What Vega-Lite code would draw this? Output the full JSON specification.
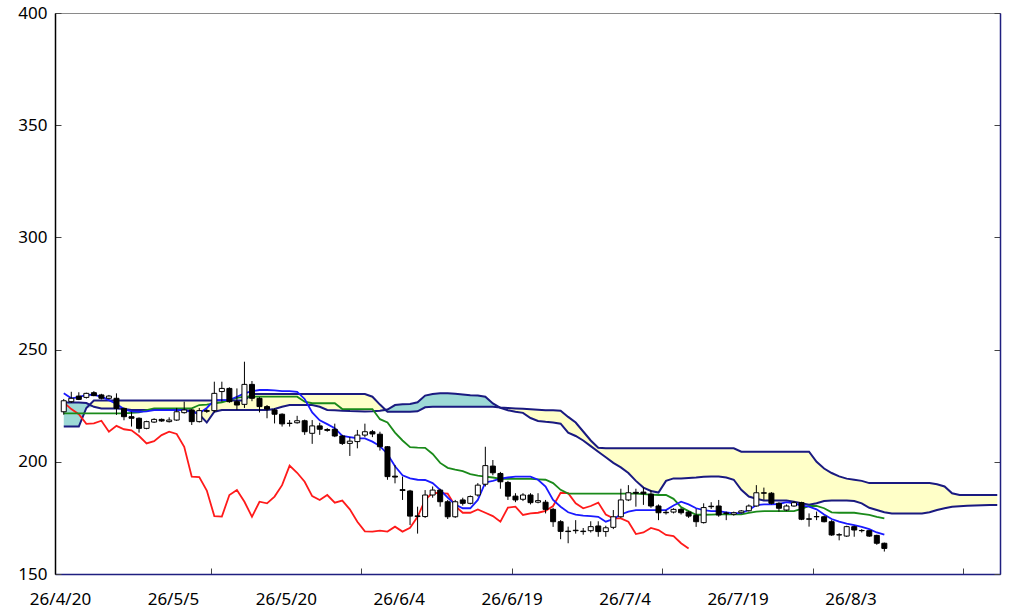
{
"$schema": "https://vega.github.io/schema/vega-lite/v6.json",
"width": 945, "height": 561,
"autosize": {"type": "none"},
"padding": {"left": 55, "top": 13, "right": 24, "bottom": 34},
"background": "white",
"config": {"view": {"stroke": "#8a8a8a", "strokeWidth": 1}, "font": "Noto Sans"},
"datasets": {
"candles": [
{"i":0,"o":222.3,"h":228,"l":221,"c":227.2,"tk":230.5,"kj":221.6},
{"i":1,"o":226.8,"h":231.2,"l":226.2,"c":228.3,"tk":228.3,"kj":221.6},
{"i":2,"o":229.3,"h":231,"l":227.5,"c":227.8,"tk":228.8,"kj":221.6},
{"i":3,"o":228.7,"h":230.8,"l":228.2,"c":230.5,"tk":229.8,"kj":221.6},
{"i":4,"o":230.8,"h":231.5,"l":229.2,"c":229.5,"tk":229.8,"kj":221.6},
{"i":5,"o":229.8,"h":230.3,"l":227.8,"c":228.3,"tk":229,"kj":221.6},
{"i":6,"o":228.3,"h":229.8,"l":227.8,"c":229.3,"tk":227.5,"kj":221.6},
{"i":7,"o":228.3,"h":230.5,"l":220.9,"c":223.8,"tk":225.8,"kj":221.6},
{"i":8,"o":223.8,"h":224.2,"l":218.5,"c":220.1,"tk":223.5,"kj":221.6},
{"i":9,"o":220.1,"h":222.3,"l":215.7,"c":219.4,"tk":222.5,"kj":221.8},
{"i":10,"o":219.4,"h":219.8,"l":213,"c":214.9,"tk":222.3,"kj":222},
{"i":11,"o":214.9,"h":218.3,"l":214.5,"c":217.9,"tk":222.5,"kj":223},
{"i":12,"o":217.7,"h":219.4,"l":217.3,"c":218.9,"tk":223,"kj":223.8},
{"i":13,"o":218.9,"h":219.3,"l":217.8,"c":218.2,"tk":223,"kj":223.8},
{"i":14,"o":217.9,"h":219.8,"l":217.5,"c":218.6,"tk":223,"kj":223.8},
{"i":15,"o":218.6,"h":224,"l":218.2,"c":222.3,"tk":223,"kj":223.8},
{"i":16,"o":221.9,"h":226.8,"l":221.5,"c":223.1,"tk":223,"kj":223.8},
{"i":17,"o":223.1,"h":223.5,"l":216.4,"c":217.9,"tk":222.3,"kj":223.8},
{"i":18,"o":217.9,"h":224,"l":217.5,"c":222.8,"tk":221.6,"kj":225.3},
{"i":19,"o":222.8,"h":223.5,"l":221.8,"c":222.5,"tk":224,"kj":225.5},
{"i":20,"o":222.8,"h":235.7,"l":222,"c":230.5,"tk":227.5,"kj":226},
{"i":21,"o":231.3,"h":235.7,"l":226.8,"c":232.7,"tk":227.5,"kj":226.5},
{"i":22,"o":232.7,"h":233.2,"l":226.3,"c":226.8,"tk":227.5,"kj":227.5},
{"i":23,"o":226.8,"h":232.7,"l":223.1,"c":225.3,"tk":229,"kj":228.5},
{"i":24,"o":225.6,"h":244.6,"l":224,"c":234.5,"tk":230.5,"kj":229},
{"i":25,"o":234.5,"h":236,"l":227,"c":228.3,"tk":231.5,"kj":229},
{"i":26,"o":228.3,"h":228.8,"l":222,"c":224.6,"tk":232,"kj":229},
{"i":27,"o":224.6,"h":225.3,"l":219.4,"c":223.5,"tk":232,"kj":229},
{"i":28,"o":223.1,"h":223.8,"l":217.1,"c":221.2,"tk":231.8,"kj":229},
{"i":29,"o":221.2,"h":221.6,"l":215.7,"c":216.9,"tk":231.5,"kj":229},
{"i":30,"o":217.2,"h":218.6,"l":215.7,"c":217.1,"tk":231.5,"kj":229},
{"i":31,"o":217.4,"h":220.5,"l":217,"c":218.3,"tk":231.2,"kj":229},
{"i":32,"o":218.3,"h":218.8,"l":212,"c":213.4,"tk":228,"kj":226.8},
{"i":33,"o":212.7,"h":218.6,"l":208,"c":216,"tk":222,"kj":226.1},
{"i":34,"o":216,"h":217.4,"l":212,"c":214.5,"tk":218.5,"kj":226.1},
{"i":35,"o":214.4,"h":215,"l":213.4,"c":214,"tk":216.8,"kj":226.1},
{"i":36,"o":214.5,"h":217,"l":211,"c":211.5,"tk":215,"kj":226.1},
{"i":37,"o":211.5,"h":212,"l":207.5,"c":208.2,"tk":211.5,"kj":223.5},
{"i":38,"o":208.2,"h":211,"l":202.6,"c":209.2,"tk":211,"kj":223.5},
{"i":39,"o":209,"h":214.2,"l":206,"c":211.9,"tk":210.5,"kj":223.5},
{"i":40,"o":211.9,"h":217,"l":211,"c":213.4,"tk":210.4,"kj":223.5},
{"i":41,"o":213.4,"h":214.2,"l":211,"c":212.4,"tk":209,"kj":223.5},
{"i":42,"o":212.3,"h":213.4,"l":205,"c":206.7,"tk":207,"kj":219},
{"i":43,"o":206.7,"h":207,"l":192,"c":193.4,"tk":203.5,"kj":217.5},
{"i":44,"o":193.6,"h":198.6,"l":190.4,"c":193.2,"tk":198,"kj":213},
{"i":45,"o":187.6,"h":193.4,"l":183,"c":187.2,"tk":194,"kj":209.5},
{"i":46,"o":187,"h":187.5,"l":171.8,"c":175.8,"tk":192.6,"kj":206.5},
{"i":47,"o":175.9,"h":180,"l":168,"c":175.6,"tk":192,"kj":206.3},
{"i":48,"o":175.6,"h":187.4,"l":175,"c":185.2,"tk":191.9,"kj":206.2},
{"i":49,"o":185.2,"h":189,"l":184,"c":187.4,"tk":190.5,"kj":203.5},
{"i":50,"o":187.4,"h":188,"l":180,"c":182.2,"tk":187.5,"kj":199.5},
{"i":51,"o":182.2,"h":183,"l":174.5,"c":175.5,"tk":184,"kj":197.3},
{"i":52,"o":175.5,"h":183,"l":175,"c":182.2,"tk":181,"kj":196.5},
{"i":53,"o":183,"h":184,"l":180.5,"c":181.5,"tk":179.3,"kj":195.8},
{"i":54,"o":181.5,"h":185,"l":181,"c":184.5,"tk":179.3,"kj":194.5},
{"i":55,"o":185.2,"h":190.5,"l":184.5,"c":189.6,"tk":183,"kj":193.8},
{"i":56,"o":190,"h":206.7,"l":189,"c":198.3,"tk":190.8,"kj":193.4},
{"i":57,"o":198.1,"h":200.8,"l":194,"c":195.1,"tk":191.5,"kj":193},
{"i":58,"o":194.8,"h":195.5,"l":188,"c":191.1,"tk":192.5,"kj":192.4},
{"i":59,"o":190.8,"h":191.5,"l":183,"c":184.7,"tk":193,"kj":192.4},
{"i":60,"o":184.7,"h":186,"l":182,"c":183,"tk":193.4,"kj":192.4},
{"i":61,"o":183.3,"h":186,"l":182.5,"c":185.2,"tk":193.4,"kj":192.4},
{"i":62,"o":185.2,"h":186,"l":181,"c":181.8,"tk":193.4,"kj":192.4},
{"i":63,"o":182,"h":186,"l":181.5,"c":182.7,"tk":192,"kj":192.2},
{"i":64,"o":182,"h":183,"l":177,"c":178.8,"tk":189,"kj":192},
{"i":65,"o":178.8,"h":179.5,"l":171,"c":173.3,"tk":183,"kj":190.5},
{"i":66,"o":173.3,"h":174,"l":165.5,"c":169,"tk":180,"kj":187.5},
{"i":67,"o":169.1,"h":171.1,"l":163.7,"c":168.9,"tk":177.5,"kj":185.8},
{"i":68,"o":169.5,"h":174,"l":168,"c":169.3,"tk":176.5,"kj":185.8},
{"i":69,"o":169.1,"h":170.5,"l":167.5,"c":168.9,"tk":176,"kj":185.8},
{"i":70,"o":169.3,"h":173.5,"l":168.5,"c":171.1,"tk":175.8,"kj":185.8},
{"i":71,"o":171.4,"h":173.5,"l":166.6,"c":168.9,"tk":175.5,"kj":185.8},
{"i":72,"o":168.9,"h":171.5,"l":166.6,"c":170.6,"tk":173.3,"kj":185.8},
{"i":73,"o":170.8,"h":178.5,"l":170,"c":175.5,"tk":174.5,"kj":185.8},
{"i":74,"o":175.5,"h":188,"l":175,"c":183,"tk":176.5,"kj":185.8},
{"i":75,"o":183,"h":189.6,"l":182.5,"c":186.2,"tk":177.8,"kj":185.8},
{"i":76,"o":186.4,"h":188,"l":180,"c":186,"tk":178.5,"kj":185.8},
{"i":77,"o":186.5,"h":188.5,"l":180.8,"c":185.8,"tk":178.5,"kj":185.6},
{"i":78,"o":185.6,"h":187.4,"l":179.5,"c":180.3,"tk":178.5,"kj":185.4},
{"i":79,"o":180.3,"h":181,"l":174,"c":177.3,"tk":178.5,"kj":185.2},
{"i":80,"o":177.5,"h":178.5,"l":176.5,"c":177.3,"tk":178.5,"kj":185.2},
{"i":81,"o":177.6,"h":179.3,"l":177,"c":178.8,"tk":180.5,"kj":183.5},
{"i":82,"o":178.8,"h":179.5,"l":176.5,"c":177.3,"tk":182.2,"kj":179.8},
{"i":83,"o":177.6,"h":178,"l":175,"c":175.8,"tk":181,"kj":178},
{"i":84,"o":176.1,"h":179,"l":171,"c":173.3,"tk":179.3,"kj":176.4},
{"i":85,"o":172.9,"h":181.5,"l":172.5,"c":179.6,"tk":178.5,"kj":176.4},
{"i":86,"o":180.2,"h":182,"l":179,"c":180,"tk":178,"kj":176.5},
{"i":87,"o":180.3,"h":183,"l":175.5,"c":176.3,"tk":178,"kj":176.6},
{"i":88,"o":177.2,"h":177.8,"l":174,"c":177,"tk":177.5,"kj":176.6},
{"i":89,"o":176.6,"h":177.8,"l":176,"c":177.3,"tk":177,"kj":176.6},
{"i":90,"o":177.3,"h":178.5,"l":177,"c":178.1,"tk":177.2,"kj":176.6},
{"i":91,"o":178.2,"h":181,"l":177.8,"c":180.3,"tk":178.5,"kj":177.2},
{"i":92,"o":180.3,"h":189.6,"l":180,"c":186.2,"tk":180.7,"kj":177.8},
{"i":93,"o":186.2,"h":188.5,"l":183,"c":186,"tk":181,"kj":178},
{"i":94,"o":186,"h":186.5,"l":181,"c":181.5,"tk":181,"kj":178},
{"i":95,"o":181.5,"h":182,"l":177.8,"c":179.3,"tk":181.2,"kj":178},
{"i":96,"o":178.5,"h":181,"l":178,"c":180.3,"tk":182,"kj":178},
{"i":97,"o":180.3,"h":182.5,"l":180,"c":181.8,"tk":181.5,"kj":178},
{"i":98,"o":181.8,"h":182.2,"l":174,"c":174.4,"tk":180.5,"kj":179},
{"i":99,"o":174.6,"h":177,"l":171.1,"c":174.4,"tk":180,"kj":180.3},
{"i":100,"o":175.6,"h":177.8,"l":174,"c":175.5,"tk":178.8,"kj":180.3},
{"i":101,"o":175.5,"h":176,"l":173,"c":173.3,"tk":176.5,"kj":179.3},
{"i":102,"o":173.3,"h":174,"l":167,"c":167.4,"tk":174.5,"kj":177.5},
{"i":103,"o":167.5,"h":168.2,"l":165,"c":167.4,"tk":173.3,"kj":177.3},
{"i":104,"o":166.9,"h":171.5,"l":166.5,"c":171.1,"tk":172.5,"kj":177.3},
{"i":105,"o":171.1,"h":171.5,"l":166.6,"c":169.6,"tk":171.8,"kj":177.3},
{"i":106,"o":169.4,"h":170,"l":168.5,"c":169.3,"tk":171,"kj":176.8},
{"i":107,"o":169.3,"h":169.5,"l":166.5,"c":166.9,"tk":170,"kj":176.3},
{"i":108,"o":167.2,"h":167.5,"l":163,"c":163.7,"tk":168.5,"kj":175.5},
{"i":109,"o":163.7,"h":164,"l":160,"c":161.4,"tk":167.5,"kj":174.8}
],
"chikou": [
{"i":0,"v":226.5},{"i":1,"v":223.5},{"i":2,"v":221.2},{"i":3,"v":216.9},{"i":4,"v":217.1},{"i":5,"v":218.3},{"i":6,"v":213.4},{"i":7,"v":216},{"i":8,"v":214.5},{"i":9,"v":214},
{"i":10,"v":211.5},{"i":11,"v":208.2},{"i":12,"v":209.2},{"i":13,"v":211.9},{"i":14,"v":213.4},{"i":15,"v":212.4},{"i":16,"v":206.7},{"i":17,"v":193.4},{"i":18,"v":193.2},{"i":19,"v":187.2},
{"i":20,"v":175.8},{"i":21,"v":175.6},{"i":22,"v":185.2},{"i":23,"v":187.4},{"i":24,"v":182.2},{"i":25,"v":175.5},{"i":26,"v":182.2},{"i":27,"v":181.5},{"i":28,"v":184.5},{"i":29,"v":189.6},
{"i":30,"v":198.3},{"i":31,"v":195.1},{"i":32,"v":191.1},{"i":33,"v":184.7},{"i":34,"v":183},{"i":35,"v":185.2},{"i":36,"v":181.8},{"i":37,"v":182.7},{"i":38,"v":178.8},{"i":39,"v":173.3},
{"i":40,"v":169},{"i":41,"v":168.9},{"i":42,"v":169.3},{"i":43,"v":168.9},{"i":44,"v":171.1},{"i":45,"v":168.9},{"i":46,"v":170.6},{"i":47,"v":175.5},{"i":48,"v":183},{"i":49,"v":186.2},
{"i":50,"v":186},{"i":51,"v":185.8},{"i":52,"v":180.3},{"i":53,"v":177.3},{"i":54,"v":177.3},{"i":55,"v":178.8},{"i":56,"v":177.3},{"i":57,"v":175.8},{"i":58,"v":173.3},{"i":59,"v":179.6},
{"i":60,"v":180},{"i":61,"v":176.3},{"i":62,"v":177},{"i":63,"v":177.3},{"i":64,"v":178.1},{"i":65,"v":180.3},{"i":66,"v":186.2},{"i":67,"v":186},{"i":68,"v":181.5},{"i":69,"v":179.3},
{"i":70,"v":180.3},{"i":71,"v":181.8},{"i":72,"v":176.5},{"i":73,"v":174.8},{"i":74,"v":174.8},{"i":75,"v":173.3},{"i":76,"v":167.8},{"i":77,"v":168.5},{"i":78,"v":170.5},{"i":79,"v":169.6},
{"i":80,"v":167.4},{"i":81,"v":166.9},{"i":82,"v":163.7},{"i":83,"v":161.4}
],
"cloud": [
{"i":0,"a":226.4,"b":215.7,"lo":215.7},{"i":1,"a":226.4,"b":215.7,"lo":215.7},{"i":2,"a":226.4,"b":215.7,"lo":215.7},{"i":3,"a":226.2,"b":224,"lo":224},
{"i":4,"a":224.5,"b":227.3,"lo":224.5},{"i":5,"a":223.8,"b":227.3,"lo":223.8},{"i":6,"a":223.8,"b":227.3,"lo":223.8},{"i":7,"a":223.8,"b":227.3,"lo":223.8},{"i":8,"a":223.5,"b":227.3,"lo":223.5},
{"i":9,"a":223.1,"b":227.3,"lo":223.1},{"i":10,"a":223.1,"b":227.3,"lo":223.1},{"i":11,"a":223.1,"b":227.3,"lo":223.1},{"i":12,"a":223.1,"b":227.3,"lo":223.1},{"i":13,"a":223.1,"b":227.3,"lo":223.1},
{"i":14,"a":223.1,"b":227.3,"lo":223.1},{"i":15,"a":223.1,"b":227.3,"lo":223.1},{"i":16,"a":223.1,"b":227.3,"lo":223.1},{"i":17,"a":222.8,"b":227.3,"lo":222.8},{"i":18,"a":221,"b":227.3,"lo":221},
{"i":19,"a":217.5,"b":227.3,"lo":217.5},{"i":20,"a":222.3,"b":227.3,"lo":222.3},{"i":21,"a":223.1,"b":227.3,"lo":223.1},{"i":22,"a":223.1,"b":227.3,"lo":223.1},{"i":23,"a":223.1,"b":227.3,"lo":223.1},
{"i":24,"a":223.1,"b":227.3,"lo":223.1},{"i":25,"a":223.1,"b":230.2,"lo":223.1},{"i":26,"a":223.1,"b":230.2,"lo":223.1},{"i":27,"a":223.1,"b":230.2,"lo":223.1},{"i":28,"a":223.5,"b":230.2,"lo":223.5},
{"i":29,"a":224.5,"b":230.2,"lo":224.5},{"i":30,"a":225.3,"b":230.2,"lo":225.3},{"i":31,"a":225.3,"b":230.2,"lo":225.3},{"i":32,"a":225.3,"b":230.2,"lo":225.3},{"i":33,"a":225.3,"b":230.2,"lo":225.3},
{"i":34,"a":224.5,"b":230.2,"lo":224.5},{"i":35,"a":223.1,"b":230.2,"lo":223.1},{"i":36,"a":223,"b":230.2,"lo":223},{"i":37,"a":222.8,"b":230.2,"lo":222.8},{"i":38,"a":222.6,"b":230.2,"lo":222.6},
{"i":39,"a":222.5,"b":230.2,"lo":222.5},{"i":40,"a":222.4,"b":230.2,"lo":222.4},{"i":41,"a":222.5,"b":229,"lo":222.5},{"i":42,"a":222.8,"b":225.5,"lo":222.8},{"i":43,"a":223.3,"b":222.3,"lo":222.3},
{"i":44,"a":225.3,"b":222.3,"lo":222.3},{"i":45,"a":225.6,"b":222.3,"lo":222.3},{"i":46,"a":225.8,"b":222.3,"lo":222.3},{"i":47,"a":226.5,"b":222.5,"lo":222.5},{"i":48,"a":229.5,"b":224.3,"lo":224.3},
{"i":49,"a":230.2,"b":224.5,"lo":224.5},{"i":50,"a":230.5,"b":224.5,"lo":224.5},{"i":51,"a":230.5,"b":224.5,"lo":224.5},{"i":52,"a":230.3,"b":224.5,"lo":224.5},{"i":53,"a":230,"b":224.5,"lo":224.5},
{"i":54,"a":229.7,"b":224.5,"lo":224.5},{"i":55,"a":229.5,"b":224.5,"lo":224.5},{"i":56,"a":229,"b":224.5,"lo":224.5},{"i":57,"a":226,"b":224.5,"lo":224.5},{"i":58,"a":224,"b":224.2,"lo":224},
{"i":59,"a":223,"b":224,"lo":223},{"i":60,"a":222.3,"b":223.8,"lo":222.3},{"i":61,"a":221.8,"b":223.6,"lo":221.8},{"i":62,"a":219.5,"b":223.4,"lo":219.5},{"i":63,"a":218.2,"b":223.2,"lo":218.2},
{"i":64,"a":217.8,"b":223,"lo":217.8},{"i":65,"a":217.5,"b":223,"lo":217.5},{"i":66,"a":217,"b":222.8,"lo":217},{"i":67,"a":213,"b":220,"lo":213},{"i":68,"a":211.5,"b":217.5,"lo":211.5},
{"i":69,"a":209.5,"b":213.5,"lo":209.5},{"i":70,"a":207,"b":209.5,"lo":207},{"i":71,"a":204.5,"b":206.3,"lo":204.5},{"i":72,"a":202,"b":206,"lo":202},{"i":73,"a":199.5,"b":206,"lo":199.5},
{"i":74,"a":197.5,"b":206,"lo":197.5},{"i":75,"a":195,"b":206,"lo":195},{"i":76,"a":191.5,"b":206,"lo":191.5},{"i":77,"a":188.5,"b":206,"lo":188.5},{"i":78,"a":187,"b":206,"lo":187},
{"i":79,"a":186.3,"b":206,"lo":186.3},{"i":80,"a":191.5,"b":206,"lo":191.5},{"i":81,"a":192.6,"b":206,"lo":192.6},{"i":82,"a":192.6,"b":206,"lo":192.6},{"i":83,"a":192.8,"b":206,"lo":192.8},
{"i":84,"a":193,"b":206,"lo":193},{"i":85,"a":193.3,"b":206,"lo":193.3},{"i":86,"a":193.4,"b":206,"lo":193.4},{"i":87,"a":193.4,"b":206,"lo":193.4},{"i":88,"a":193,"b":206,"lo":193},
{"i":89,"a":192,"b":206,"lo":192},{"i":90,"a":187.5,"b":204.5,"lo":187.5},{"i":91,"a":184.5,"b":204.5,"lo":184.5},{"i":92,"a":183.5,"b":204.5,"lo":183.5},{"i":93,"a":182.7,"b":204.5,"lo":182.7},
{"i":94,"a":182.7,"b":204.5,"lo":182.7},{"i":95,"a":182.7,"b":204.5,"lo":182.7},{"i":96,"a":182.7,"b":204.5,"lo":182.7},{"i":97,"a":182.2,"b":204.5,"lo":182.2},{"i":98,"a":181.5,"b":204.5,"lo":181.5},
{"i":99,"a":180.9,"b":204.5,"lo":180.9},{"i":100,"a":181.5,"b":200,"lo":181.5},{"i":101,"a":182.5,"b":197,"lo":182.5},{"i":102,"a":182.7,"b":195,"lo":182.7},{"i":103,"a":182.7,"b":193.5,"lo":182.7},
{"i":104,"a":182.7,"b":192.5,"lo":182.7},{"i":105,"a":182.5,"b":192,"lo":182.5},{"i":106,"a":181.5,"b":191.5,"lo":181.5},{"i":107,"a":179.5,"b":190.5,"lo":179.5},{"i":108,"a":178.5,"b":190.5,"lo":178.5},
{"i":109,"a":177.5,"b":190.5,"lo":177.5},{"i":110,"a":177,"b":190.5,"lo":177},{"i":111,"a":177,"b":190.5,"lo":177},{"i":112,"a":177,"b":190.5,"lo":177},{"i":113,"a":177,"b":190.5,"lo":177},
{"i":114,"a":177,"b":190.5,"lo":177},{"i":115,"a":177.5,"b":190.5,"lo":177.5},{"i":116,"a":178.5,"b":190,"lo":178.5},{"i":117,"a":179.3,"b":189,"lo":179.3},{"i":118,"a":180,"b":186,"lo":180},
{"i":119,"a":180.2,"b":185.2,"lo":180.2},{"i":120,"a":180.4,"b":185.2,"lo":180.4},{"i":121,"a":180.5,"b":185.2,"lo":180.5},{"i":122,"a":180.6,"b":185.2,"lo":180.6},{"i":123,"a":180.7,"b":185.2,"lo":180.7},{"i":124,"a":180.7,"b":185.2,"lo":180.7}
]
},
"resolve": {"axis": {"y": "independent"}},
"layer": [
{"data": {"name": "cloud"}, "mark": {"type": "area", "color": "#FFFFC8", "clip": true},
 "encoding": {
  "x": {"field": "i", "type": "quantitative", "title": null,
        "scale": {"domain": [-0.5, 123.7], "nice": false, "zero": false},
        "axis": {"values": [-0.5, 14.5, 19.5, 29.5, 39.5, 44.5, 59.5, 74.5, 79.5, 89.5, 99.5, 104.5, 119.5],
                 "labelExpr": "(round(datum.value+0.5) % 15 == 0) ? ['26/4/20','26/5/5','26/5/20','26/6/4','26/6/19','26/7/4','26/7/19','26/8/3'][round((datum.value+0.5)/15)] : ''",
                 "tickOpacity": {"condition": {"test": "round(datum.value+0.5) % 20 == 0 && datum.value > 0", "value": 1}, "value": 0},
                 "tickSize": -6, "tickColor": "#444444", "labelPadding": 23, "labelFontSize": 17, "labelColor": "#000000",
                 "labelFont": "Noto Sans", "labelOverlap": false, "labelFlush": false, "labelBound": false,
                 "domainColor": "#1f1f80", "domainWidth": 1.5, "grid": false}},
  "y": {"field": "b", "type": "quantitative", "title": null,
        "scale": {"domain": [150, 400], "nice": false, "zero": false},
        "axis": {"orient": "left", "values": [150, 200, 250, 300, 350, 400], "tickSize": -6, "tickColor": "#444444",
                 "labelPadding": 14, "labelFontSize": 17, "labelColor": "#000000", "labelFont": "Noto Sans",
                 "domainColor": "#000000", "domainWidth": 1.5, "grid": false, "labelFlush": false}},
  "y2": {"field": "lo"}}},
{"data": {"name": "cloud"}, "mark": {"type": "area", "color": "#9DD9D6", "clip": true},
 "encoding": {"x": {"field": "i", "type": "quantitative"},
  "y": {"field": "a", "type": "quantitative", "axis": null}, "y2": {"field": "lo"}}},
{"data": {"name": "cloud"}, "mark": {"type": "line", "color": "#1a1a80", "strokeWidth": 2, "clip": true},
 "encoding": {"x": {"field": "i", "type": "quantitative"},
  "y": {"field": "a", "type": "quantitative", "axis": null}}},
{"data": {"name": "cloud"}, "mark": {"type": "line", "color": "#1a1a80", "strokeWidth": 2, "clip": true},
 "encoding": {"x": {"field": "i", "type": "quantitative"},
  "y": {"field": "b", "type": "quantitative",
        "axis": {"orient": "right", "values": [150, 200, 250, 300, 350, 400], "tickSize": -6, "tickColor": "#444444",
                 "labels": false, "domainColor": "#1f1f80", "domainWidth": 1.5, "grid": false, "title": null}}}},
{"data": {"name": "chikou"}, "mark": {"type": "line", "color": "#ff1a1a", "strokeWidth": 1.8},
 "encoding": {"x": {"field": "i", "type": "quantitative"},
  "y": {"field": "v", "type": "quantitative", "axis": null}}},
{"data": {"name": "candles"}, "mark": {"type": "line", "color": "#1a8a1a", "strokeWidth": 1.8},
 "encoding": {"x": {"field": "i", "type": "quantitative"},
  "y": {"field": "kj", "type": "quantitative", "axis": null}}},
{"data": {"name": "candles"}, "mark": {"type": "line", "color": "#1a1aff", "strokeWidth": 1.8},
 "encoding": {"x": {"field": "i", "type": "quantitative"},
  "y": {"field": "tk", "type": "quantitative", "axis": null}}},
{"data": {"name": "candles"}, "mark": {"type": "rule", "color": "#000000", "strokeWidth": 1},
 "encoding": {"x": {"field": "i", "type": "quantitative"},
  "y": {"field": "l", "type": "quantitative", "axis": null}, "y2": {"field": "h"}}},
{"data": {"name": "candles"}, "mark": {"type": "bar", "size": 5, "stroke": "#000000", "strokeWidth": 1},
 "encoding": {"x": {"field": "i", "type": "quantitative"},
  "y": {"field": "o", "type": "quantitative", "axis": null}, "y2": {"field": "c"},
  "fill": {"condition": {"test": "datum.c >= datum.o", "value": "#ffffff"}, "value": "#000000"}}}
]
}
